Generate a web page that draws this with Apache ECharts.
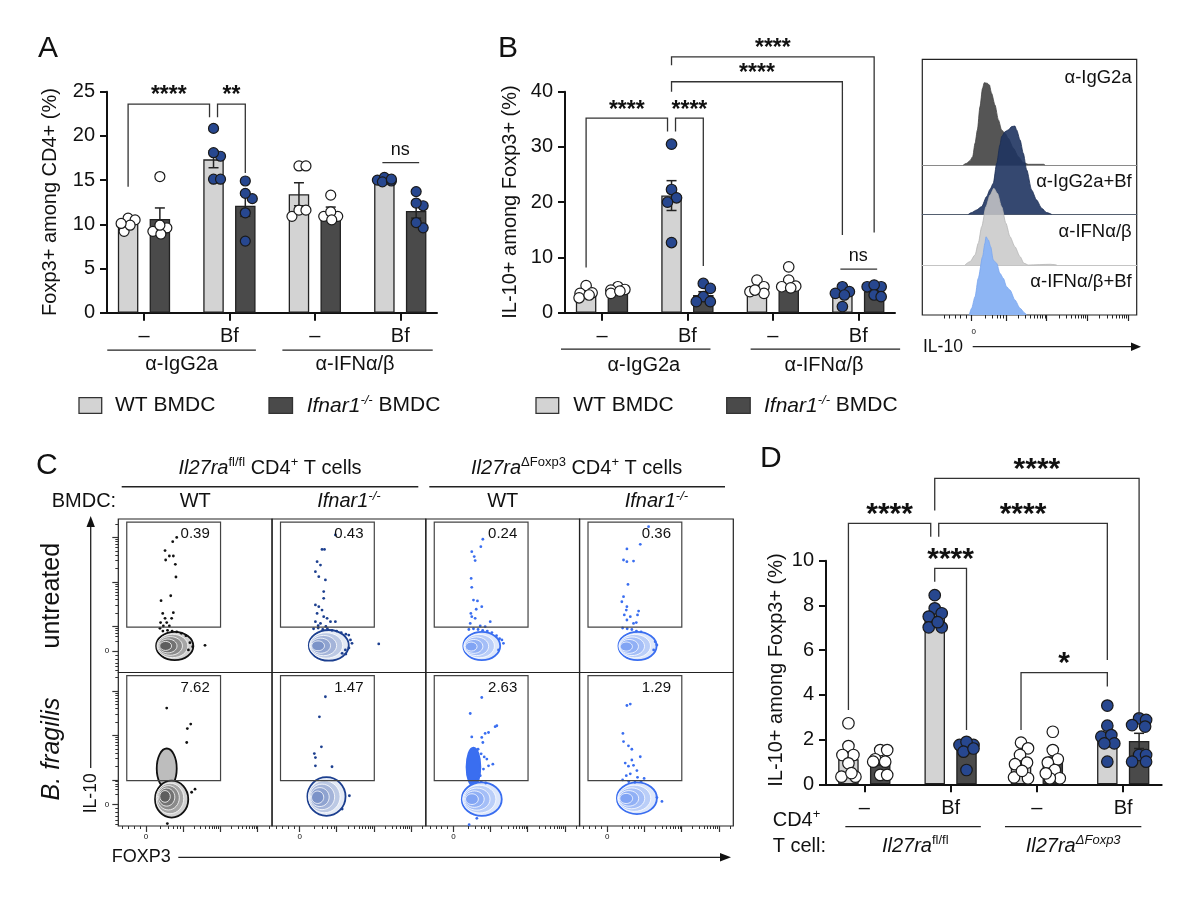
<!DOCTYPE html>
<html><head><meta charset="utf-8">
<script src="https://cdn.jsdelivr.net/npm/echarts@6/dist/echarts.min.js"></script>
<style>html,body{margin:0;padding:0;background:#fff}#c{width:1200px;height:901px}</style>
</head><body><div id="c"></div>
<script>
// ================= DATA =================
const tickLabels = ['–', 'Bf', '–', 'Bf'];
const groupNamesAB = ['α-IgG2a', 'α-IFNα/β'];
const filledGroups = [false, true, false, true];

// Panel A : Foxp3+ among CD4+ (%)
const meansA_WT = [10.1, 17.35, 13.4, 14.95];
const meansA_KO = [10.6, 12.1, 11.4, 11.5];
const semA_WT = [0.3, 0.95, 1.3, 0.15];
const semA_KO = [1.25, 1.2, 0.55, 0.8];
const dotsA_WT = [[9.2, 10.7, 10.5, 9.9, 10.1], [20.85, 17.7, 18.1, 15.1, 15.1], [16.6, 16.6, 10.9, 11.6, 11.6], [15.0, 15.3, 14.8, 14.9, 15.1]];
const dotsA_KO = [[15.4, 9.2, 9.6, 8.9, 9.9], [14.9, 12.9, 13.5, 11.3, 8.1], [13.3, 10.9, 10.9, 11.4, 10.5], [13.7, 12.1, 12.4, 9.6, 10.2]];
const bracketsA = [[0, 2, 23.6, 14.25, 22.1, '****', 0, -1], [2, 3, 23.6, 22.1, 15.8, '**', 1, 0], [6, 7, 16.97, null, null, 'ns', 0, 0]];

// Panel B : IL-10+ among Foxp3+ (%)
const meansB_WT = [3.5, 21.2, 4.4, 3.5];
const meansB_KO = [3.9, 3.2, 5.4, 3.9];
const semB_WT = [0.4, 2.7, 0.45, 0.6];
const semB_KO = [0.2, 0.6, 0.7, 0.4];
const dotsB_WT = [[4.9, 3.5, 3.6, 2.7, 3.2], [30.5, 22.3, 20.8, 20.0, 12.7], [5.9, 4.7, 3.8, 3.5, 4.1], [4.7, 3.8, 3.5, 3.2, 1.1]];
const dotsB_KO = [[4.7, 4.1, 4.2, 3.5, 3.9], [5.3, 4.4, 2.9, 2.0, 2.0], [8.3, 5.9, 4.7, 4.8, 4.5], [4.7, 4.7, 5.0, 3.2, 2.9]];
const bracketsB = [[0, 2, 35.2, 8.2, 32.8, '****', 0, -1], [2, 3, 35.2, 32.8, 8.45, '****', 1, 0], [2, 6, 41.8, 40.0, 14.06, '****', 0, 0], [2, 7, 46.3, 44.8, 14.5, '****', 0, 0], [6, 7, 7.9, null, null, 'ns', 0, 0]];

// Panel D : IL-10+ among Foxp3+ (%)
const meansD_WT = [1.12, 7.54, 0.98, 1.98];
const meansD_KO = [1.01, 1.53, 0.97, 1.94];
const semD_WT = [0.28, 0.2, 0.2, 0.3];
const semD_KO = [0.15, 0.15, 0.25, 0.34];
const dotsD_WT = [[2.73, 1.71, 1.31, 1.31, 0.94, 0.34, 0.34, 0.5], [8.46, 7.87, 7.65, 7.5, 7.02, 7.02, 7.25], [1.86, 1.61, 1.31, 0.97, 0.9, 0.27, 0.31, 0.6], [3.52, 2.62, 2.13, 2.2, 1.83, 1.83, 1.01]];
const dotsD_KO = [[1.53, 1.53, 1.12, 1.01, 1.01, 0.42, 0.42], [1.76, 1.76, 1.9, 1.46, 0.64, 1.6], [2.35, 1.53, 1.12, 0.97, 0.64, 0.27, 0.27, 0.49], [2.95, 2.88, 2.65, 2.58, 1.31, 1.31, 1.01, 1.01]];
const bracketsD = [[0, 2, 11.67, 3.32, 11.07, '****', 0, -1], [2, 6, 11.67, 11.07, 5.56, '****', 1, 0], [2, 7, 13.68, 12.24, 3.1, '****', 0, 0], [2, 3, 9.66, 9.06, 2.43, '****', 0, 0], [4, 6, 4.99, 2.43, 4.37, '*', 0, 0]];

// Histogram (IL-10), [IL-10 position 0-100, height]
const histLabels = ['α-IgG2a', 'α-IgG2a+Bf', 'α-IFNα/β', 'α-IFNα/β+Bf'];
const histIgG = [[19.1, 0], [20.7, 1.7], [22.2, 4.3], [23.5, 8.3], [24.6, 21.7], [25.7, 35], [26.9, 58.3], [28.1, 76.7], [28.9, 82.3], [30.3, 81.7], [31.3, 80], [32.3, 71.7], [33.9, 60], [35.5, 45], [37, 35], [38.6, 31.7], [40.1, 26.7], [42.5, 16.7], [44.8, 8.3], [47.1, 2.3], [49.5, 0.7], [56.5, 0.7], [57.2, 0]];
const histIgGBf = [[21.5, 0], [23, 1.7], [25.3, 4.3], [27.7, 7.7], [30, 17.7], [31.6, 25], [33.1, 31], [34.7, 51], [36.2, 69.3], [37, 77.7], [38.6, 82.7], [40.1, 84.3], [41.7, 87.7], [43.2, 88.3], [44, 84.3], [45.6, 74.3], [47.1, 61], [48.7, 44.3], [51, 24.3], [53.3, 14.3], [55.7, 6], [58, 1.7], [60.3, 0]];
const histIFN = [[19.9, 0], [22.2, 3.3], [24.6, 10], [26.1, 21.7], [27.7, 38.3], [29.7, 58.3], [31.6, 70], [33.4, 76.7], [35, 71.7], [37, 58.3], [39, 41.7], [40.9, 28.3], [43.2, 18.3], [45.6, 8.3], [47.4, 1.7], [49.5, 0], [59.6, 0.7], [62.7, 0]];
const histIFNBf = [[21.9, 0], [23, 6.7], [24.6, 18.3], [26.1, 36.7], [28.1, 58.3], [29.2, 71.7], [29.7, 78.3], [30.8, 75], [31.9, 68.3], [33.1, 55], [34.7, 51.7], [36.2, 41.7], [37.8, 36.7], [39.3, 28.3], [40.9, 25], [43.2, 15], [45.6, 6.7], [47.9, 1.7], [48.7, 0]];

// Flow plots (FOXP3 x, IL-10 y on 0-100 display scale), rows: untreated, B. fragilis
const flowPct = [['0.39', '0.43', '0.24', '0.36'], ['7.62', '1.47', '2.63', '1.29']];
const gateBox = [5.5, 29.5, 66.5, 98];
// blobs: [cx, cy, rx, ry, peakX, peakY, mode]
const flowBlobs = [
  [[[36.7, 17.3, 12.1, 9.2, 29.3, 17.3, 0]], [[36.9, 17.7, 13, 10, 28.2, 17.3, 0]], [[36.4, 17.3, 12, 9.2, 27.8, 16.8, 0]], [[37.7, 17.3, 12.4, 9.2, 28.6, 16.8, 0]]],
  [[[31.5, 37.5, 6.5, 13, 31, 40, 2], [34.7, 17.5, 10.8, 12, 29.3, 19.7, 0]], [[35.4, 19.2, 12.4, 12.6, 28.2, 18.6, 0]], [[31, 38.5, 4.5, 12.5, 31, 38.5, 1], [36.4, 17.5, 13, 10.9, 28.4, 17.5, 0]], [[37.3, 18.1, 13, 10.3, 28.6, 17.9, 0]]]
];
const flowDots = [
  [
    [[38, 88], [35.4, 85.2], [30.4, 79.4], [33.2, 75.9], [35.8, 75.9], [30.8, 73.3], [37.1, 70.5], [37.5, 62.2], [34.1, 50], [27.8, 46.8], [35.8, 39], [28.9, 38.5], [30.4, 35.3], [34.7, 35.3], [27.5, 32.5], [31.5, 32.5], [29.3, 30.3], [33.2, 30.3], [27.1, 28.8], [46.6, 19.4], [48.4, 16.8], [56.4, 17.7], [45.6, 14.7], [29, 27], [32, 27.5], [35, 27], [38, 26.5], [41, 25.5], [44, 24]],
    [[41.2, 89.6], [34.1, 80.2], [32.5, 80.2], [29.3, 72.2], [31.5, 70], [28.2, 65.7], [30.4, 62.4], [34.7, 60.3], [33.6, 52.7], [33.6, 48.3], [28.2, 44], [30.4, 42.9], [32.5, 40.7], [29.3, 38.5], [33.6, 36.4], [35.8, 35.3], [28.2, 33.1], [31.5, 32], [38, 33.1], [41.2, 33.1], [69.4, 18.6], [49.9, 24.4], [51, 21.2], [47.7, 14.7], [45.6, 12.5], [27, 28.5], [30, 29], [33, 28], [36, 28.5], [39, 27.5], [42, 27], [45, 26], [48, 25], [30, 30.5], [35, 30], [52, 19], [50, 16], [48, 12]],
    [[37.1, 86.8], [35.8, 82], [29.9, 78.7], [31.5, 75.5], [32.1, 72.9], [29.5, 61.3], [29.9, 55.5], [31, 47.2], [33.6, 46.6], [36.4, 42.9], [32.8, 41.2], [29.3, 38.5], [29.9, 36.4], [32.1, 35.3], [28.9, 32], [41.9, 33.1], [35.4, 30.3], [38.6, 29.9], [49.5, 21.2], [50.5, 19], [47.3, 14.7], [28, 28], [31, 28.5], [34, 28], [37, 27.5], [40, 27], [43, 26], [46, 24], [48, 22]],
    [[44.9, 95], [39.5, 83.5], [30.8, 80.5], [28.6, 73.3], [30.8, 72.2], [35.1, 72.6], [31.5, 57.4], [28.6, 49.4], [27.5, 46.1], [30.8, 42.9], [30.4, 40.7], [29.1, 37.5], [33, 36.4], [38.4, 40], [37.7, 37.5], [30.8, 34.2], [35.1, 32], [36.9, 32.5], [49.2, 20.1], [50.3, 17.9], [48.2, 14.7], [28, 29], [31, 28.5], [34, 28], [37, 27], [40, 26.5]]
  ],
  [
    [[31.5, 76.8], [47.1, 66.4], [44.9, 63.5], [44.5, 54.4], [49.9, 24], [47.7, 22], [31.9, 1.6]],
    [[34.7, 84.2], [30.8, 71.1], [32.1, 51.6], [27.5, 47.2], [28.2, 44.6], [28.2, 39.2], [39, 38.6], [50.3, 19.7], [45.6, 11]],
    [[36.4, 83.7], [28.9, 73.3], [46.2, 65.3], [45.1, 64.7], [40.8, 60.9], [38.6, 60.3], [36.4, 57.7], [37.1, 54.4], [29.9, 58], [39.7, 43.6], [43.6, 40.3], [40.8, 39.2], [37.5, 37.1], [35.4, 32.8], [28.2, 0.8], [33.2, 5], [34, 50], [36, 47], [38, 45], [33, 30], [36, 29], [39, 28]],
    [[33, 79.4], [30.8, 78.5], [28.2, 60.3], [28.6, 55], [31.8, 52.2], [34, 50], [39.5, 45.1], [34, 43], [29.7, 41], [31.8, 39], [35.1, 39.5], [37.3, 36.1], [33, 34], [30.4, 32.8], [37.7, 31.7], [53.6, 16], [50.3, 18.5], [28, 30], [32, 29], [36, 28.5], [40, 29], [42, 31]]
  ]
];

// ================= STYLE / LAYOUT =================
const F = 'Liberation Sans, Arial, Helvetica, sans-serif';
const INK = '#111';
const NAVY = '#27478f';
const WT_FILL = '#d3d3d3', KO_FILL = '#4a4a4a';
const RICH = {
  i: {fontFamily: F, fontSize: 20, fontStyle: 'italic', fill: INK, lineHeight: 24},
  n: {fontFamily: F, fontSize: 20, fill: INK, lineHeight: 24},
  s: {fontFamily: F, fontSize: 13, fill: INK, lineHeight: 12, verticalAlign: 'top'},
  si: {fontFamily: F, fontSize: 13, fontStyle: 'italic', fill: INK, lineHeight: 12, verticalAlign: 'top'}
};

const chart = echarts.init(document.getElementById('c'), null, {renderer: 'canvas', width: 1200, height: 901});
const grids = [], xAxes = [], yAxes = [], series = [], graphics = [];

function axisBase(gi, min, max, extra) {
  return Object.assign({gridIndex: gi, type: 'value', min: min, max: max,
    axisLine: {show: false, onZero: false}, axisTick: {show: false}, axisLabel: {show: false}, splitLine: {show: false}}, extra || {});
}
function addGrid(rect, xmin, xmax, ymin, ymax, xCfg, yCfg) {
  grids.push(Object.assign({containLabel: false, outerBoundsMode: 'none'}, rect));
  const gi = grids.length - 1;
  xAxes.push(axisBase(gi, xmin, xmax, xCfg));
  yAxes.push(axisBase(gi, ymin, ymax, yCfg));
  return gi;
}

function swarm(vals, pxY, minD, maxOff) {
  const idx = vals.map((v, i) => i).sort((a, b) => vals[b] - vals[a]);
  const placed = [], off = new Array(vals.length).fill(0);
  for (const i of idx) {
    let best = 0, bestScore = Infinity;
    for (let k = 0; k <= 2 * maxOff; k++) {
      const cand = k === 0 ? 0 : (k % 2 ? 1 : -1) * Math.ceil(k / 2);
      let score = 0;
      for (const p of placed) {
        const d = Math.hypot(cand - p.o, (vals[i] - p.v) * pxY);
        if (d < minD) score += minD - d;
      }
      if (score === 0) { best = cand; bestScore = 0; break; }
      if (score < bestScore) { bestScore = score; best = cand; }
    }
    off[i] = best; placed.push({v: vals[i], o: best});
  }
  return off;
}

function buildBarPanel(P, D) {
  const gi = addGrid({left: P.left, top: P.top, width: P.width, height: P.height}, P.xmin, P.xmax, 0, P.ymax, {
    axisLine: {show: true, onZero: false, lineStyle: {color: INK, width: 2}},
    axisTick: {show: true, customValues: [0, 1, 2, 3], length: 8, lineStyle: {color: INK, width: 2}},
    axisLabel: {show: true, customValues: [0, 1, 2, 3], formatter: (v) => tickLabels[Math.round(v)], fontFamily: F, fontSize: 20, color: INK, margin: 14}
  }, {
    interval: P.step,
    axisLine: {show: true, onZero: false, lineStyle: {color: INK, width: 2}},
    axisTick: {show: true, length: 7, lineStyle: {color: INK, width: 2}},
    axisLabel: {show: true, fontFamily: F, fontSize: 20, color: INK, margin: 12}
  });
  const pxX = P.width / (P.xmax - P.xmin), pxY = P.height / P.ymax;
  const BW = 20.5, GAP = 0.55;
  const off = BW * (1 + GAP) / 2 / pxX;
  const barX = (i) => Math.floor(i / 2) + (i % 2 ? off : -off);
  const names = ['WT BMDC', 'Ifnar1-/- BMDC'];
  const fills = [WT_FILL, KO_FILL];
  [D.meansWT, D.meansKO].forEach((means, s) => {
    series.push({type: 'bar', name: names[s], xAxisIndex: gi, yAxisIndex: gi, barWidth: BW, barGap: (GAP * 100) + '%', z: 2, silent: true,
      data: means.map((v, g) => [g, v]), itemStyle: {color: fills[s], borderColor: '#222', borderWidth: 1.3}});
  });
  // error bars
  const err = [];
  [[D.meansWT, D.semWT], [D.meansKO, D.semKO]].forEach(([m, e], s) => m.forEach((v, g) => err.push([g + (s ? off : -off), v - e[g], v + e[g]])));
  series.push({type: 'custom', xAxisIndex: gi, yAxisIndex: gi, z: 3, clip: false, silent: true, data: err,
    renderItem: (params, api) => {
      const a = api.coord([api.value(0), api.value(1)]), b = api.coord([api.value(0), api.value(2)]), w = 5;
      const st = {stroke: '#222', lineWidth: 1.5};
      return {type: 'group', children: [
        {type: 'line', shape: {x1: a[0], y1: a[1], x2: b[0], y2: b[1]}, style: st},
        {type: 'line', shape: {x1: b[0] - w, y1: b[1], x2: b[0] + w, y2: b[1]}, style: st},
        {type: 'line', shape: {x1: a[0] - w, y1: a[1], x2: a[0] + w, y2: a[1]}, style: st}]};
    }});
  // dots
  const dotData = [];
  [D.dotsWT, D.dotsKO].forEach((groups, s) => groups.forEach((vals, g) => {
    const o = swarm(vals, pxY, P.dot * 0.88, 7);
    vals.forEach((v, k) => dotData.push({value: [g + (s ? off : -off) + o[k] / pxX, v],
      itemStyle: {color: filledGroups[g] ? NAVY : '#fff'}}));
  }));
  series.push({type: 'scatter', xAxisIndex: gi, yAxisIndex: gi, z: 4, silent: true, symbol: 'circle', symbolSize: P.dot,
    data: dotData, itemStyle: {borderColor: '#1a1a1a', borderWidth: 1.2, opacity: 1}});
  // brackets
  series.push({type: 'custom', xAxisIndex: gi, yAxisIndex: gi, z: 5, clip: false, silent: true,
    data: D.brackets.map((b, i) => [i]),
    renderItem: (params, api) => {
      const b = D.brackets[params.dataIndex];
      const st = {stroke: '#333', lineWidth: 1.3};
      const pTop1 = api.coord([barX(b[0]), b[2]]), pTop2 = api.coord([barX(b[1]), b[2]]);
      const x1 = pTop1[0] + b[6] * 4, x2 = pTop2[0] + b[7] * 4, yT = pTop1[1];
      const ch = [];
      if (b[3] === null) {
        ch.push({type: 'line', shape: {x1: x1 - 2, y1: yT, x2: x2 + 3, y2: yT}, style: st});
      } else {
        const y1 = api.coord([0, b[3]])[1], y2 = api.coord([0, b[4]])[1];
        ch.push({type: 'polyline', shape: {points: [[x1, y1], [x1, yT], [x2, yT], [x2, y2]]}, style: Object.assign({fill: null}, st)});
      }
      const isNs = b[5] === 'ns';
      ch.push({type: 'text', x: (x1 + x2) / 2, y: yT - (isNs ? 13 : P.starGap), style: {text: b[5], fill: INK, fontFamily: F,
        fontSize: isNs ? 18 : P.starSize, fontWeight: isNs ? 'normal' : 'bold', align: 'center', verticalAlign: 'middle'}});
      return {type: 'group', children: ch};
    }});
  // group underlines + names
  series.push({type: 'custom', xAxisIndex: gi, yAxisIndex: gi, z: 5, clip: false, silent: true,
    data: P.groups.map((g, i) => [i]),
    renderItem: (params, api) => {
      const g = P.groups[params.dataIndex];
      const a = api.coord([g[0], 0]), b = api.coord([g[1], 0]), c = api.coord([g[2], 0]);
      const nm = D.groupNames[params.dataIndex];
      return {type: 'group', children: [
        {type: 'line', shape: {x1: a[0], y1: a[1] + P.lineOff, x2: b[0], y2: b[1] + P.lineOff}, style: {stroke: '#222', lineWidth: 1.3}},
        {type: 'text', x: c[0], y: c[1] + P.textOff, style: {text: nm, rich: RICH, fill: INK, fontFamily: F, fontSize: 20, align: 'center', verticalAlign: 'middle'}}]};
    }});
}

const LAYOUT = {
  A: {left: 107, top: 91.7, width: 330, height: 221, xmin: -0.433, xmax: 3.43, ymax: 25, step: 5, dot: 10, starSize: 23, starGap: 8,
      groups: [[-0.43, 1.31, 0.44], [1.62, 3.38, 2.47]], lineOff: 37.5, textOff: 52},
  B: {left: 565, top: 91.7, width: 330, height: 221, xmin: -0.433, xmax: 3.43, ymax: 40, step: 10, dot: 10.5, starSize: 23, starGap: 8,
      groups: [[-0.48, 1.27, 0.49], [1.74, 3.49, 2.6]], lineOff: 36.5, textOff: 53},
  D: {left: 826, top: 560.7, width: 335.7, height: 223.6, xmin: -0.444, xmax: 3.446, ymax: 10, step: 2, dot: 11.5, starSize: 30, starGap: 8.5,
      groups: [[-0.22, 1.35, 0.59], [1.63, 3.21, 2.42]], lineOff: 42.4, textOff: 62}
};

buildBarPanel(LAYOUT.A, {meansWT: meansA_WT, meansKO: meansA_KO, semWT: semA_WT, semKO: semA_KO, dotsWT: dotsA_WT, dotsKO: dotsA_KO, brackets: bracketsA, groupNames: groupNamesAB});
buildBarPanel(LAYOUT.B, {meansWT: meansB_WT, meansKO: meansB_KO, semWT: semB_WT, semKO: semB_KO, dotsWT: dotsB_WT, dotsKO: dotsB_KO, brackets: bracketsB, groupNames: groupNamesAB});
buildBarPanel(LAYOUT.D, {meansWT: meansD_WT, meansKO: meansD_KO, semWT: semD_WT, semKO: semD_KO, dotsWT: dotsD_WT, dotsKO: dotsD_KO, brackets: bracketsD,
  groupNames: ['{i|Il27ra}{s|fl/fl}', '{i|Il27ra}{si|ΔFoxp3}']});

// ---------- log-like tick helper (display decoration)
function flowTicks(zero, first, width, maxV) {
  const major = [zero], minor = [];
  for (let a = first; a <= maxV; a += width) {
    major.push(a);
    for (let k = 2; k <= 9; k++) { const v = a + width * Math.log10(k); if (v <= maxV) minor.push(v); }
  }
  for (let k = 1; k <= 5; k++) minor.push(zero + (first - zero) * Math.log10(1 + 9 * k / 6));
  for (let k = 1; k <= 5; k++) { const v = zero - (first - zero) * 0.16 * k; if (v > 0) minor.push(v); }
  return {major: major, all: major.concat(minor)};
}

// ---------- Histogram
const H = {left: 922.3, top: 59.3, width: 214.4};
addGrid({left: H.left, top: H.top, width: H.width, height: 255.7, show: true, borderColor: '#222', borderWidth: 1.2, backgroundColor: 'transparent'}, 0, 100, 0, 1);
const histRows = [
  {top: 59.3, h: 105.7, data: histIgG, fill: '#555555', line: '#444', base: '#8a8a8a', op: 1},
  {top: 165, h: 49.3, data: histIgGBf, fill: '#1f3461', line: '#1b2c52', base: '#556070', op: 0.9},
  {top: 214.3, h: 50.7, data: histIFN, fill: '#c8c8c8', line: '#b5b5b5', base: '#c4c4c4', op: 0.85},
  {top: 265, h: 50, data: histIFNBf, fill: '#8db5f4', line: '#7aa6ef', base: '#222', op: 1}
];
const hT = flowTicks(23, 39, 19, 99);
histRows.forEach((r, i) => {
  const last = i === 3;
  const gi = addGrid({left: H.left, top: r.top, width: H.width, height: r.h}, 0, 100, 0, r.h, {
    axisLine: {show: !last, onZero: false, lineStyle: {color: r.base, width: 1.2}},
    axisTick: {show: last, customValues: hT.all, length: 3.5, lineStyle: {color: '#222', width: 1}},
    axisLabel: {show: last, customValues: [24], formatter: () => '0', fontFamily: F, fontSize: 8, color: INK, margin: 13}
  });
  series.push({type: 'line', xAxisIndex: gi, yAxisIndex: gi, data: r.data, showSymbol: false, smooth: 0.25, smoothMonotone: 'x', clip: false, silent: true,
    z: 2 + i, lineStyle: {color: r.line, width: 0.8}, areaStyle: {color: r.fill, opacity: r.op}});
});
addGrid({left: H.left, top: H.top, width: H.width, height: 255.7}, 0, 100, 0, 1, {
  axisTick: {show: true, customValues: hT.major, length: 6, lineStyle: {color: '#222', width: 1.2}}
});

// ---------- Flow plots
const FL = {left: 118.3, top: 519, w: 153.75, h: 153.5};
const colStyle = [
  {outline: '#111', light: '#d2d2d2', dark: '#4a4a4a', dot: '#111'},
  {outline: '#1c3f8f', light: '#e4eaf5', dark: '#6a84c0', dot: '#1c3f8f'},
  {outline: '#3a6ef0', light: '#dde7fb', dark: '#7199f3', dot: '#3a6ef0'},
  {outline: '#3a6ef0', light: '#dde7fb', dark: '#7199f3', dot: '#3a6ef0'}
];
function lerpColor(a, b, t) {
  const pa = [1, 3, 5].map(i => parseInt(a.substr(i, 2), 16)), pb = [1, 3, 5].map(i => parseInt(b.substr(i, 2), 16));
  return 'rgb(' + pa.map((v, i) => Math.round(v + (pb[i] - v) * t)).join(',') + ')';
}
const fxT = flowTicks(18, 42, 24.3, 99.5), fyT = flowTicks(14, 30, 29, 99.5);
for (let r = 0; r < 2; r++) for (let c = 0; c < 4; c++) {
  const rect = {left: FL.left + c * FL.w, top: FL.top + r * FL.h, width: FL.w, height: FL.h};
  const gi = addGrid(Object.assign({show: true, borderColor: '#222', borderWidth: 1.2, backgroundColor: 'transparent'}, rect), 0, 100, 0, 100,
    r === 1 ? {axisTick: {show: true, customValues: fxT.all, length: 3, lineStyle: {color: '#333', width: 1}},
      axisLabel: {show: true, customValues: [18], formatter: () => '0', fontFamily: F, fontSize: 8, color: INK, margin: 7}} : {},
    c === 0 ? {axisTick: {show: true, customValues: fyT.all, length: 3, lineStyle: {color: '#333', width: 1}},
      axisLabel: {show: true, customValues: [14], formatter: () => '0', fontFamily: F, fontSize: 8, color: INK, margin: 9}} : {});
  const cs = colStyle[c];
  series.push({type: 'custom', xAxisIndex: gi, yAxisIndex: gi, z: 2, silent: true, clip: true, data: flowBlobs[r][c],
    renderItem: (params, api) => {
      const v = [0, 1, 2, 3, 4, 5, 6].map(k => api.value(k));
      const mode = v[6];
      const ch = [];
      const L = mode === 0 ? 5 : 1;
      for (let k = 0; k < L; k++) {
        const t = k / L;
        const cpt = api.coord([v[0] + (v[4] - v[0]) * t, v[1] + (v[5] - v[1]) * t]);
        const sz = api.size([v[2] * (1 - 0.85 * t), v[3] * (1 - 0.85 * t)]);
        let fill = lerpColor(cs.light, cs.dark, Math.pow(t, 0.7));
        if (mode === 1) fill = cs.outline;
        if (mode === 2) fill = '#bdbdbd';
        ch.push({type: 'ellipse', shape: {cx: cpt[0], cy: cpt[1], rx: sz[0], ry: sz[1]},
          style: {fill: fill, stroke: k === 0 ? cs.outline : '#fff', lineWidth: k === 0 ? 1.8 : 0.8}});
      }
      return {type: 'group', children: ch};
    }});
  series.push({type: 'scatter', xAxisIndex: gi, yAxisIndex: gi, z: 3, silent: true, symbol: 'circle', symbolSize: 2.8,
    data: flowDots[r][c], itemStyle: {color: cs.dot, opacity: 1}});
  series.push({type: 'custom', xAxisIndex: gi, yAxisIndex: gi, z: 4, silent: true, clip: false, data: [gateBox],
    renderItem: (params, api) => {
      const a = api.coord([api.value(0), api.value(3)]), b = api.coord([api.value(2), api.value(1)]);
      const t = api.coord([59.5, 90]);
      return {type: 'group', children: [
        {type: 'rect', shape: {x: a[0], y: a[1], width: b[0] - a[0], height: b[1] - a[1]}, style: {fill: null, stroke: '#444', lineWidth: 1.2}},
        {type: 'text', x: t[0], y: t[1], style: {text: flowPct[r][c], fill: INK, fontFamily: F, fontSize: 15, align: 'right', verticalAlign: 'middle'}}]};
    }});
  if (r === 1) addGrid(rect, 0, 100, 0, 100, {axisTick: {show: true, customValues: fxT.major, length: 6, lineStyle: {color: '#333', width: 1.2}}});
  if (c === 0) addGrid(rect, 0, 100, 0, 100, {}, {axisTick: {show: true, customValues: fyT.major, length: 6, lineStyle: {color: '#333', width: 1.2}}});
}

// ---------- Texts & decorations
function txt(x, y, text, o) {
  o = o || {};
  graphics.push({type: 'text', x: x, y: y, rotation: o.rot || 0, silent: true, z: 10,
    style: {text: text, fill: INK, fontFamily: F, fontSize: o.fs || 20, fontWeight: o.fw || 'normal', fontStyle: o.it ? 'italic' : 'normal',
      align: o.al || 'center', verticalAlign: 'middle', rich: o.rich}});
}
function line(x1, y1, x2, y2, w) { graphics.push({type: 'line', silent: true, shape: {x1, y1, x2, y2}, style: {stroke: '#222', lineWidth: w || 1.2}}); }
function arrowHead(pts) { graphics.push({type: 'polygon', silent: true, shape: {points: pts}, style: {fill: '#111'}}); }
function rectBox(x, y, w, h, fill) { graphics.push({type: 'rect', silent: true, shape: {x, y, width: w, height: h}, style: {fill: fill, stroke: '#333', lineWidth: 1.3}}); }

const R_LEG = {i: Object.assign({}, RICH.i, {fontSize: 21}), n: Object.assign({}, RICH.n, {fontSize: 21}), si: RICH.si};
txt(38, 49, 'A', {fs: 30, al: 'left'});
txt(498, 49, 'B', {fs: 30, al: 'left'});
txt(36, 466, 'C', {fs: 30, al: 'left'});
txt(760, 459, 'D', {fs: 30, al: 'left'});
txt(50, 202, 'Foxp3+ among CD4+ (%)', {rot: Math.PI / 2});
txt(510, 202, 'IL-10+ among Foxp3+ (%)', {rot: Math.PI / 2});
txt(776, 670, 'IL-10+ among Foxp3+ (%)', {rot: Math.PI / 2});
// legends
[[79, 115, 269, 306.7], [536, 573.3, 726.7, 764]].forEach(p => {
  rectBox(p[0], 397.7, 22.7, 15.6, WT_FILL);
  txt(p[1], 405.7, 'WT BMDC', {fs: 21, al: 'left'});
  rectBox(p[2], 397.7, 23.5, 15.6, KO_FILL);
  txt(p[3], 405.7, '{i|Ifnar1}{si|-/-}{n| BMDC}', {fs: 21, al: 'left', rich: R_LEG});
});
// histogram labels
[78.3, 181.7, 231.7, 281.7].forEach((y, i) => txt(1131.7, y, histLabels[i], {fs: 18.5, al: 'right'}));
txt(923, 346.7, 'IL-10', {fs: 17.5, al: 'left'});
line(972.7, 346.7, 1134, 346.7, 1.3);
arrowHead([[1141, 346.7], [1131, 342.5], [1131, 350.9]]);
// panel C headers
txt(270, 468.3, '{i|Il27ra}{s|fl/fl}{n| CD4}{s|+}{n| T cells}', {rich: RICH});
txt(576.7, 468.3, '{i|Il27ra}{s|ΔFoxp3}{n| CD4}{s|+}{n| T cells}', {rich: RICH});
line(121.7, 486.7, 418.3, 486.7, 1.4);
line(429.3, 486.7, 725, 486.7, 1.4);
txt(51.7, 501.7, 'BMDC:', {al: 'left'});
['WT', '{i|Ifnar1}{si|-/-}', 'WT', '{i|Ifnar1}{si|-/-}'].forEach((t, c) => txt(FL.left + FL.w * (c + 0.5), 501.7, t, {rich: RICH}));
txt(51.7, 595.7, 'untreated', {fs: 25, rot: Math.PI / 2});
txt(51.7, 749, 'B. fragilis', {fs: 25, rot: Math.PI / 2, it: true});
txt(90.7, 793.3, 'IL-10', {fs: 17.5, rot: Math.PI / 2});
line(90.7, 768, 90.7, 524, 1.3);
arrowHead([[90.7, 516], [86.5, 527], [94.9, 527]]);
txt(111.7, 857.3, 'FOXP3', {fs: 18, al: 'left'});
line(178.3, 857.3, 724, 857.3, 1.3);
arrowHead([[731, 857.3], [720, 853], [720, 861.6]]);
// panel D side labels
txt(772.7, 820, '{n|CD4}{s|+}', {al: 'left', rich: RICH});
txt(772.7, 846.7, 'T cell:', {al: 'left'});

chart.setOption({
  animation: false,
  backgroundColor: '#fff',
  grid: grids, xAxis: xAxes, yAxis: yAxes, series: series, graphic: graphics
});
</script></body></html>
